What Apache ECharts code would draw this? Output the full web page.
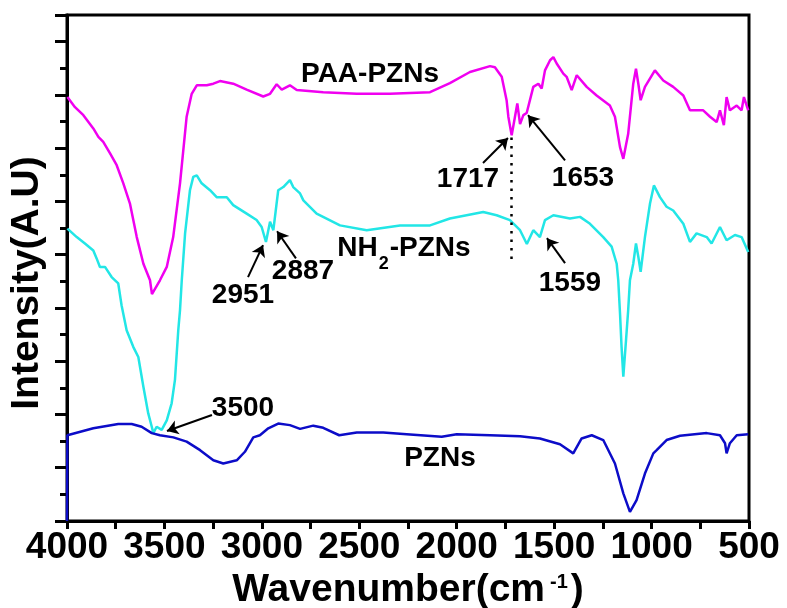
<!DOCTYPE html>
<html>
<head>
<meta charset="utf-8">
<title>FTIR</title>
<script src="https://cdn.jsdelivr.net/npm/echarts@6/dist/echarts.min.js"></script>
<style>
html, body {margin: 0; padding: 0; background: #fff;}
#main {width: 787px; height: 608px;}
</style>
</head>
<body>
<div id="main"></div>
<script>
// spectra: [wavenumber, intensity a.u.]
var paaData = [
    [3998, 7.96], [3959, 7.77], [3916, 7.62], [3865, 7.37], [3839, 7.21], [3814, 7.12], [3779, 6.90], [3745, 6.68], [3711, 6.34], [3677, 5.96],
    [3642, 5.33], [3608, 4.83], [3574, 4.52], [3564, 4.26], [3523, 4.52], [3488, 4.77], [3455, 5.33], [3420, 6.34], [3386, 7.59], [3360, 8.02],
    [3334, 8.18], [3283, 8.18], [3249, 8.21], [3215, 8.26], [3147, 8.21], [3078, 8.10], [2993, 7.97], [2958, 8.02], [2924, 8.20], [2898, 8.10],
    [2856, 8.18], [2821, 8.09], [2685, 8.05], [2513, 8.02], [2343, 8.02], [2137, 8.05], [2035, 8.22], [1932, 8.43], [1829, 8.54], [1804, 8.52],
    [1769, 8.34], [1744, 7.90], [1735, 7.59], [1718, 7.24], [1701, 7.59], [1689, 7.84], [1675, 7.45], [1658, 7.62], [1641, 7.66], [1607, 8.15],
    [1581, 8.21], [1564, 8.12], [1547, 8.46], [1521, 8.65], [1504, 8.71], [1487, 8.59], [1453, 8.40], [1436, 8.34], [1410, 8.09], [1384, 8.37],
    [1333, 8.15], [1282, 7.99], [1214, 7.80], [1188, 7.59], [1162, 7.02], [1145, 6.80], [1120, 7.27], [1094, 8.21], [1080, 8.49], [1068, 8.21],
    [1056, 7.90], [1034, 8.15], [983, 8.46], [940, 8.27], [889, 8.15], [837, 7.99], [803, 7.71], [735, 7.71], [700, 7.59], [666, 7.49],
    [649, 7.71], [629, 7.43], [615, 7.96], [598, 7.71], [563, 7.80], [538, 7.71], [526, 7.96], [504, 7.71]
];

var nh2Data = [
    [3998, 5.49], [3950, 5.33], [3908, 5.21], [3865, 5.08], [3848, 4.93], [3831, 4.77], [3805, 4.77], [3771, 4.58], [3737, 4.46], [3720, 4.05],
    [3694, 3.58], [3660, 3.27], [3634, 3.08], [3608, 2.52], [3583, 2.02], [3565, 1.77], [3557, 1.65], [3540, 1.77], [3514, 1.71], [3488, 1.89],
    [3463, 2.21], [3446, 2.65], [3429, 3.58], [3420, 3.96], [3411, 4.52], [3394, 5.40], [3369, 6.21], [3352, 6.46], [3334, 6.49], [3309, 6.34],
    [3266, 6.21], [3232, 6.08], [3180, 6.08], [3147, 5.93], [3078, 5.77], [3027, 5.65], [3001, 5.52], [2979, 5.24], [2958, 5.62], [2941, 5.46],
    [2916, 6.21], [2890, 6.27], [2856, 6.40], [2839, 6.27], [2804, 6.15], [2787, 6.02], [2719, 5.77], [2599, 5.55], [2462, 5.46], [2291, 5.55],
    [2137, 5.55], [2035, 5.68], [1864, 5.80], [1795, 5.74], [1727, 5.65], [1675, 5.46], [1640, 5.20], [1607, 5.46], [1573, 5.33], [1547, 5.65],
    [1504, 5.74], [1419, 5.68], [1367, 5.71], [1316, 5.58], [1248, 5.33], [1205, 5.15], [1179, 4.83], [1171, 4.52], [1162, 3.90], [1154, 3.27],
    [1145, 2.71], [1131, 3.40], [1120, 3.96], [1111, 4.52], [1094, 4.83], [1080, 5.21], [1068, 4.96], [1056, 4.68], [1034, 5.33], [1008, 5.96],
    [988, 6.30], [957, 6.08], [923, 5.90], [889, 5.83], [837, 5.58], [803, 5.24], [769, 5.40], [717, 5.33], [692, 5.21], [649, 5.52],
    [615, 5.27], [572, 5.37], [538, 5.33], [504, 5.05]
];

var pznData = [
    [4000, 0], [3998, 1.61], [3865, 1.74], [3737, 1.82], [3668, 1.82], [3617, 1.77], [3565, 1.65], [3523, 1.61], [3454, 1.57], [3386, 1.49],
    [3317, 1.33], [3249, 1.14], [3198, 1.08], [3129, 1.14], [3087, 1.30], [3044, 1.57], [3010, 1.61], [2967, 1.74], [2916, 1.83], [2856, 1.80],
    [2804, 1.73], [2736, 1.79], [2685, 1.75], [2603, 1.61], [2513, 1.66], [2377, 1.66], [2257, 1.63], [2077, 1.58], [2000, 1.63], [1829, 1.61],
    [1675, 1.59], [1573, 1.55], [1470, 1.44], [1402, 1.27], [1359, 1.55], [1307, 1.61], [1248, 1.52], [1188, 1.08], [1145, 0.52], [1111, 0.17],
    [1077, 0.39], [1034, 0.89], [991, 1.27], [974, 1.33], [923, 1.52], [854, 1.60], [717, 1.65], [649, 1.61], [623, 1.46], [615, 1.27],
    [598, 1.46], [563, 1.61], [504, 1.63]
];

// annotations, in data coordinates
var labelTexts = ['PAA-PZNs', '1717', '1653', '2951', '2887', 'NH{s|2}-PZNs', '1559', '3500', 'PZNs'];
var labelPos = [[2445, 8.39], [1942, 6.42], [1352, 6.44], [3097, 4.24], [2789, 4.69], [2271, 5.12], [1419, 4.47], [3097, 2.12], [2086, 1.18]];
var arrowFrom = [[1865, 6.72], [1444, 6.77], [3071, 4.58], [2825, 4.93], [1444, 4.84], [3256, 1.99]];
var arrowTo = [[1737, 7.19], [1634, 7.62], [2994, 5.18], [2922, 5.44], [1537, 5.31], [3487, 1.69]];
var dotLine = [[1719, 7.20], [1719, 4.86]];

var FONT = '"Liberation Sans", Arial, sans-serif';

var chart = echarts.init(document.getElementById('main'));

var arrowPairs = arrowFrom.map(function (p, i) {
    return [{coord: p}, {coord: arrowTo[i]}];
});

var option = {
    animation: false,
    backgroundColor: '#fff',
    grid: {
        left: 67, right: 38, top: 15, bottom: 87,
        outerBoundsMode: 'none',
        containLabel: false,
        show: true, borderColor: '#000', borderWidth: 3
    },
    xAxis: {
        type: 'value',
        inverse: true,
        min: 500,
        max: 4000,
        interval: 500,
        name: '{a|Wavenumber(cm}{s|-1}{a|)}',
        nameLocation: 'middle',
        nameGap: 39,
        nameTextStyle: {
            rich: {
                a: {fontFamily: FONT, fontWeight: 'bold', fontSize: 39, lineHeight: 40, color: '#000'},
                s: {fontFamily: FONT, fontWeight: 'bold', fontSize: 20, lineHeight: 20, color: '#000', padding: [0, 3, 16, 5]}
            }
        },
        axisLine: {lineStyle: {color: '#000', width: 3}},
        axisTick: {length: 8, lineStyle: {color: '#000', width: 3}},
        minorTick: {show: true, splitNumber: 2, length: 8, lineStyle: {color: '#000', width: 3}},
        axisLabel: {
            fontFamily: FONT, fontWeight: 'bold', fontSize: 37, color: '#000', margin: 8,
            formatter: function (v) { return String(v); }
        },
        splitLine: {show: false}
    },
    yAxis: {
        type: 'value',
        min: 0,
        max: 9.5,
        interval: 1,
        name: 'Intensity(A.U)',
        nameLocation: 'middle',
        nameGap: 20,
        nameTextStyle: {fontFamily: FONT, fontWeight: 'bold', fontSize: 39, lineHeight: 40, color: '#000', padding: [0, 30, 0, 0]},
        axisLine: {lineStyle: {color: '#000', width: 3}},
        axisTick: {length: 12, lineStyle: {color: '#000', width: 3}},
        minorTick: {show: true, splitNumber: 2, length: 7, lineStyle: {color: '#000', width: 3}},
        axisLabel: {show: false},
        splitLine: {show: false}
    },
    series: [
        {
            name: 'PAA-PZNs',
            type: 'line',
            data: paaData,
            symbol: 'none',
            lineStyle: {color: '#f000f0', width: 2.5},
            markLine: {
                silent: true,
                symbol: ['none', 'none'],
                label: {show: false},
                lineStyle: {color: '#000', width: 2.5, type: [2.5, 6]},
                data: [[{coord: dotLine[0]}, {coord: dotLine[1]}]]
            }
        },
        {
            name: 'NH2-PZNs',
            type: 'line',
            data: nh2Data,
            symbol: 'none',
            lineStyle: {color: '#22e6e6', width: 2.5}
        },
        {
            name: 'PZNs',
            type: 'line',
            data: pznData,
            symbol: 'none',
            lineStyle: {color: '#0c0cc8', width: 2.5},
            markLine: {
                silent: true,
                symbol: ['none', 'arrow'],
                symbolSize: 11,
                label: {show: false},
                lineStyle: {color: '#000', width: 2, type: 'solid'},
                data: arrowPairs
            }
        }
    ]
};
chart.setOption(option);

// peak labels placed from data coordinates
var texts = labelTexts.map(function (t, i) {
    var p = chart.convertToPixel({gridIndex: 0}, labelPos[i]);
    return {
        type: 'text',
        x: p[0],
        y: p[1],
        z: 100,
        style: {
            text: t,
            fontFamily: FONT,
            fontWeight: 'bold',
            fontSize: 28,
            fill: '#000',
            align: 'center',
            verticalAlign: 'middle',
            rich: {
                s: {fontFamily: FONT, fontWeight: 'bold', fontSize: 18, lineHeight: 18, fill: '#000', padding: [32, 1, 0, 1]}
            }
        }
    };
});
chart.setOption({graphic: texts});
</script>
</body>
</html>
